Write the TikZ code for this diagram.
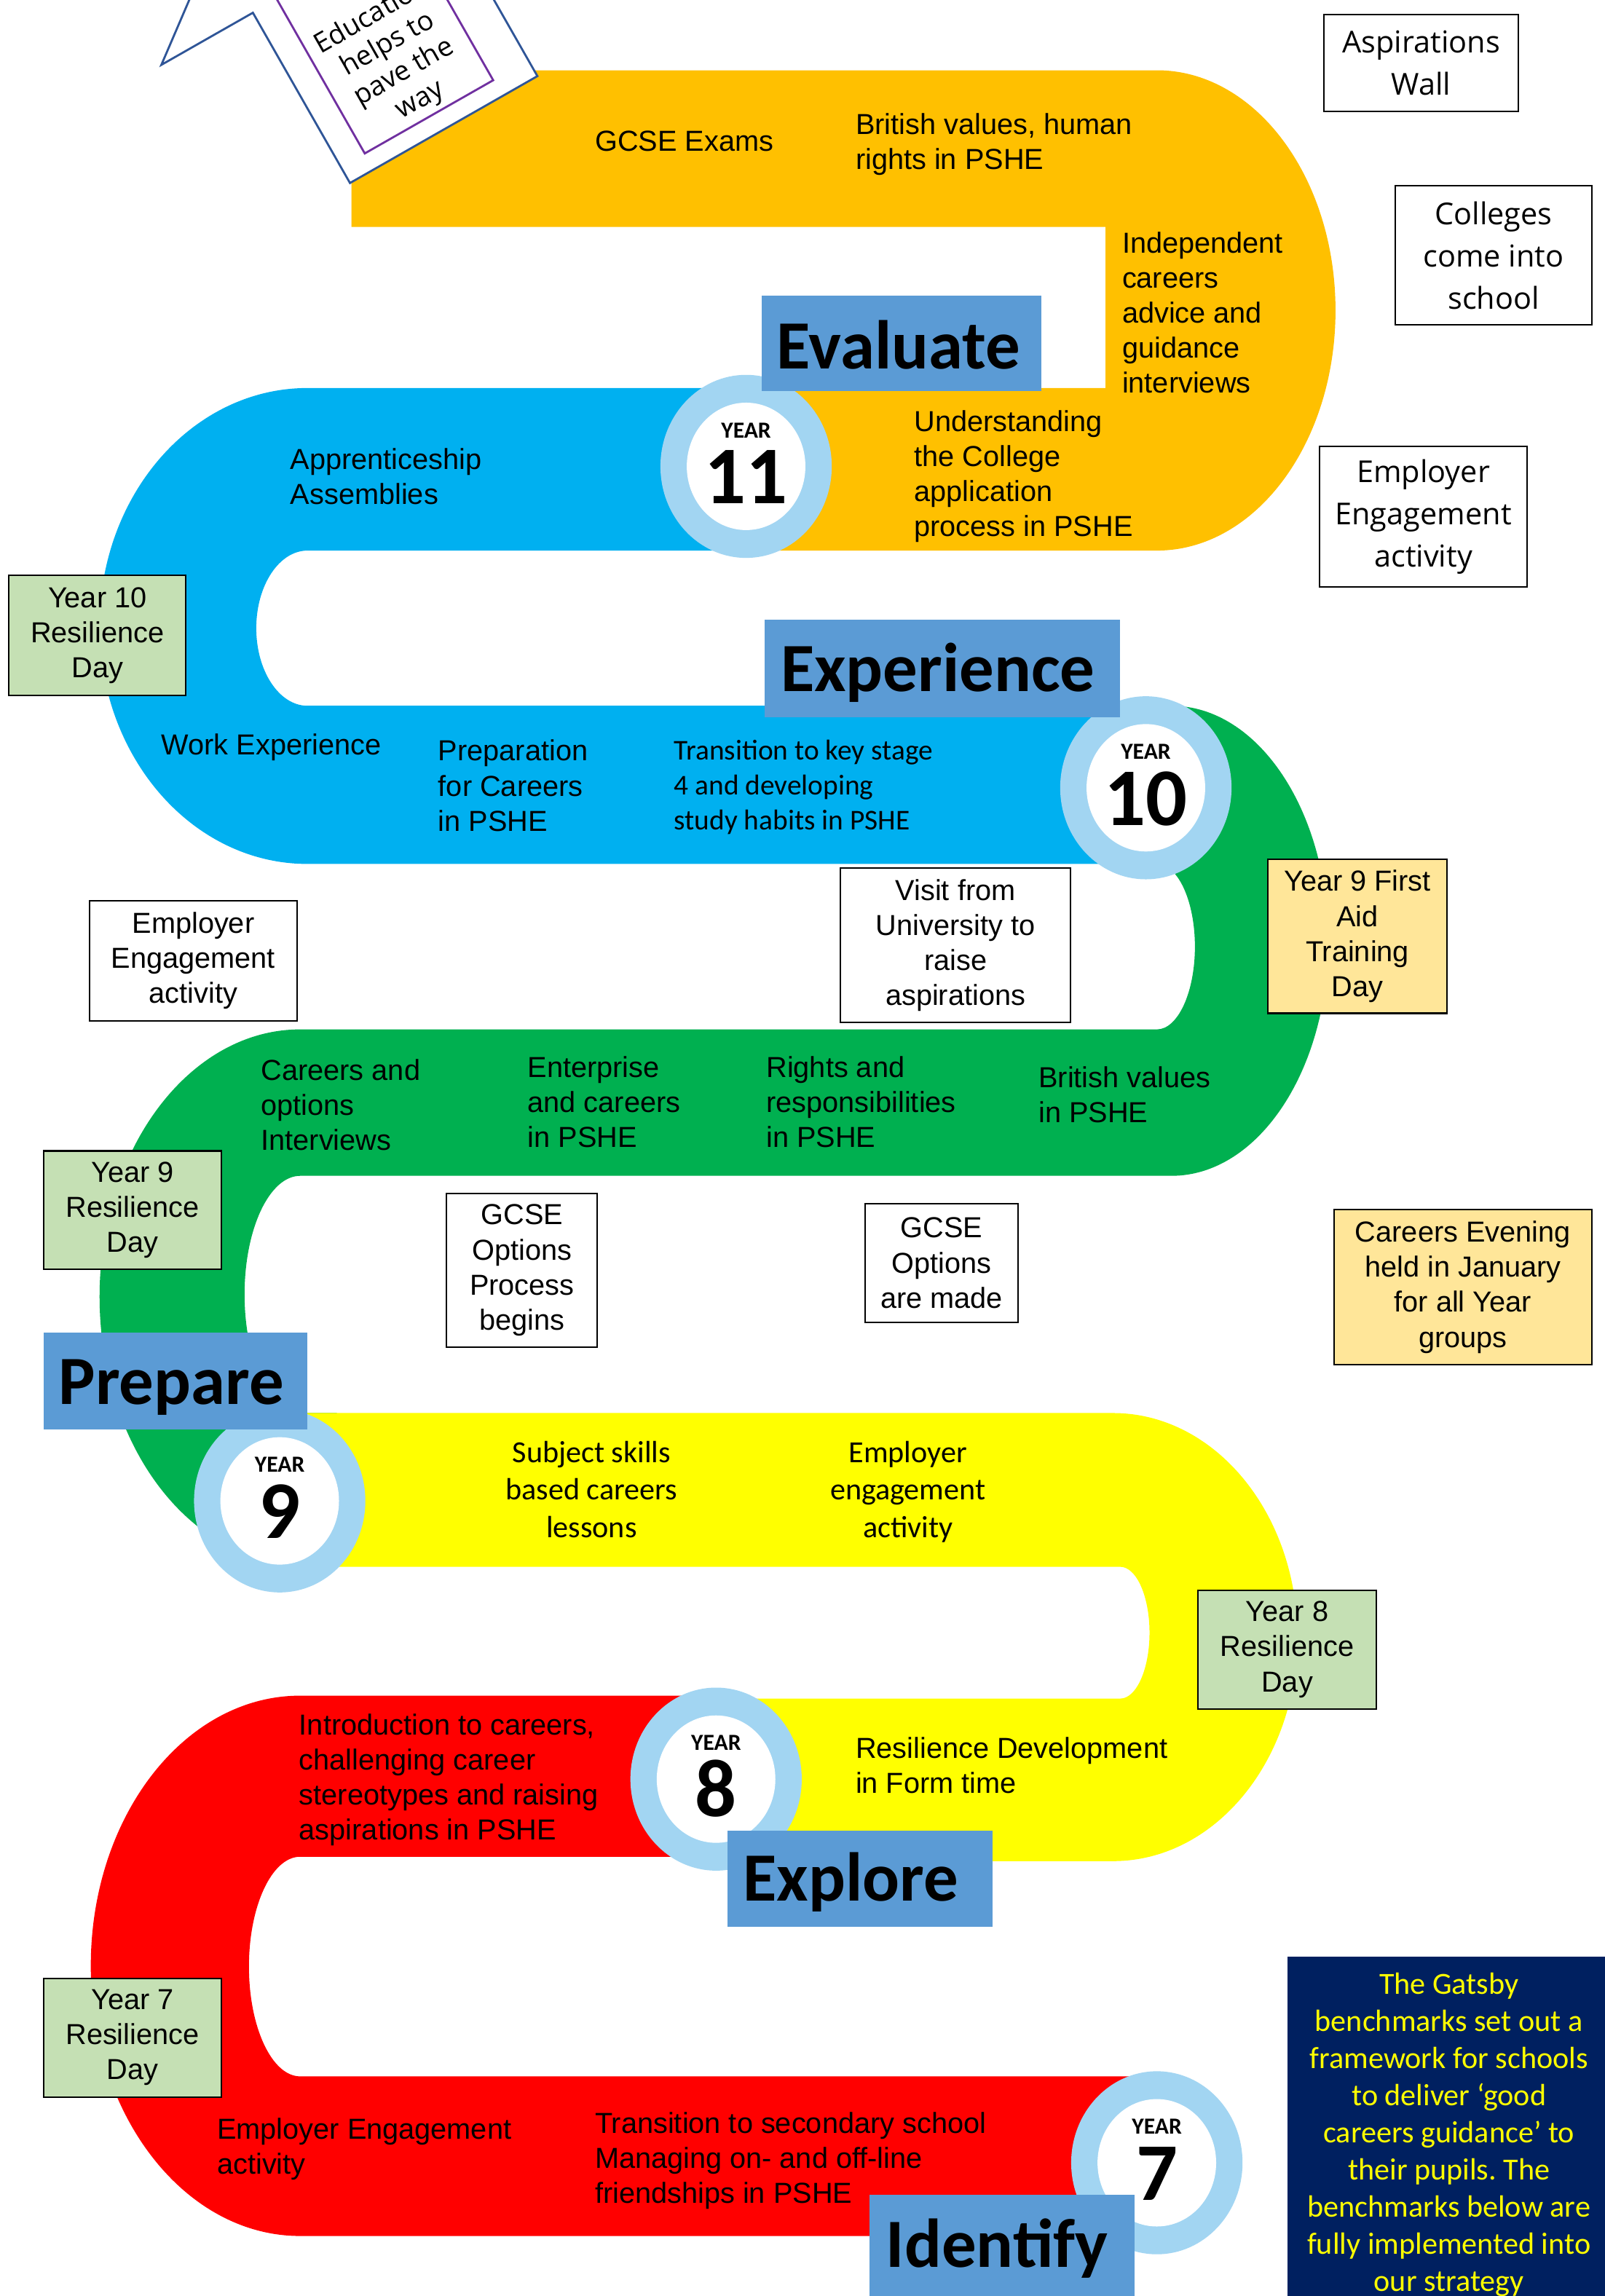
\documentclass[tikz,border=0pt]{standalone}
\usepackage{fontspec}
\setmainfont{Liberation Sans}
\newfontfamily\calib{Carlito}
\newfontfamily\opensf{Open Sans}
\frenchspacing
\definecolor{cOrange}{HTML}{FFC000}
\definecolor{cBlue}{HTML}{00B0F0}
\definecolor{cGreen}{HTML}{00B050}
\definecolor{cYellow}{HTML}{FFFF00}
\definecolor{cRed}{HTML}{FF0000}
\definecolor{cRing}{HTML}{A2D5F2}
\definecolor{cLabel}{HTML}{5B9BD5}
\definecolor{cNavy}{HTML}{002060}
\definecolor{cPale}{HTML}{C5E0B4}
\definecolor{cCream}{HTML}{FFE699}
\definecolor{cArrow}{HTML}{2F5597}
\definecolor{cPurple}{HTML}{7030A0}
\def\u{0.02011cm}
\begin{document}
\begin{tikzpicture}[x=\u, y=-\u,
  ptext/.style={font=\fontsize{11.3}{13.7}\selectfont, inner sep=0pt, anchor=north west, align=left},
  calt/.style={font=\calib\fontsize{11.2}{13.7}\selectfont, inner sep=0pt, anchor=north west, align=left},
  calc/.style={font=\calib\fontsize{12}{14.6}\selectfont, inner sep=0pt, anchor=north, align=center},
  bx/.style={draw=black, line width=0.6pt, inner sep=0pt, align=center, rectangle},
  abox/.style={bx, font=\fontsize{11.3}{13.7}\selectfont},
  obox/.style={bx, fill=white, font=\opensf\fontsize{11.8}{16.6}\selectfont},
  obox2/.style={bx, fill=white, font=\fontsize{11.3}{13.7}\selectfont},
  lbltxt/.style={font=\calib\bfseries\fontsize{27}{32}\selectfont, anchor=base, inner sep=0pt},
  yr/.style={font=\calib\bfseries\fontsize{9}{10}\selectfont, anchor=base, inner sep=0pt},
  num/.style={font=\calib\bfseries\fontsize{32}{36}\selectfont, anchor=base, inner sep=0pt},
  rot/.style={font=\opensf\fontsize{10.7}{12.6}\selectfont, anchor=center, align=center, inner sep=0pt, rotate=29.7}
]
\useasboundingbox (0,0) rectangle (1096,1568);
\clip (0,0) rectangle (1096,1568);
\fill[white] (0,0) rectangle (1096,1568);

% ---------- bands ----------
\fill[cOrange] (240,48) -- (790,48) arc[start angle=-90,end angle=90,x radius=122,y radius=164]
  -- (510,376) -- (510,265) -- (755,265) -- (755,155) -- (240,155) -- cycle;
\fill[cBlue] (510,265) -- (210,265) arc[start angle=270,end angle=90,x radius=142,y radius=162.5]
  -- (782,590) -- (782,482) -- (210,482) arc[start angle=90,end angle=270,x radius=35,y radius=53]
  -- (510,376) -- cycle;
\fill[cGreen] (782,482) -- (800,482) arc[start angle=-90,end angle=90,x radius=107,y radius=160.5]
  -- (205,803) arc[start angle=270,end angle=90,x radius=38,y radius=81]
  -- (230,965) -- (230,1068) -- (205,1068) arc[start angle=90,end angle=270,x radius=137,y radius=182.5]
  -- (790,703) arc[start angle=90,end angle=-90,x radius=26,y radius=56.5]
  -- (782,590) -- cycle;
\fill[cYellow] (191,965) -- (760,965) arc[start angle=-90,end angle=90,x radius=126,y radius=153]
  -- (490,1271) -- (490,1160) -- (765,1160) arc[start angle=90,end angle=-90,x radius=20,y radius=45]
  -- (191,1070) -- cycle;
\fill[cRed] (490,1158) -- (205,1158) arc[start angle=270,end angle=90,x radius=143,y radius=184.5]
  -- (790,1527) -- (790,1418) -- (205,1418) arc[start angle=90,end angle=270,x radius=35,y radius=75]
  -- (490,1268) -- cycle;

% ---------- arrow ----------
\filldraw[fill=white, draw=cArrow, line width=0.8pt, line join=miter]
  (239,125) -- (367,52) -- (300.7,-64.3) -- (363.2,-99.9) -- (182.2,-123.3) -- (110.2,44.3) -- (172.7,8.7) -- cycle;
\draw[cPurple, line width=0.8pt] (249.1,104.8) -- (336.8,54.8) -- (237.8,-118.8) -- (150.1,-68.8) -- cycle;
\node[rot] (paveway) at (270.5,40) {Education\\helps to\\pave the\\way};

% ---------- year circles ----------
\foreach \cx/\cy/\n/\nm in {509.5/318.5/11/c11, 782.5/538/10/c10, 191/1025/9/c9, 489/1215/8/c8, 790/1477/7/c7}{
  \fill[cRing] (\cx,\cy) ellipse[x radius=58.5,y radius=62.5];
  \fill[white] (\cx,\cy) ellipse[x radius=40.5,y radius=43.5];
  \node[yr] (\nm y) at (\cx,\cy-19.5) {YEAR};
  \node[num] (\nm n) at (\cx,\cy+25.5) {\n};
}

% ---------- stage labels ----------
\fill[cLabel] (520,202) rectangle (711,267);
\node[lbltxt] (evaluate) at (613.5,252) {Evaluate};
\fill[cLabel] (522,423) rectangle (765,490);
\node[lbltxt] (experience) at (640.5,472) {Experience};
\fill[cLabel] (30,910) rectangle (210,976);
\node[lbltxt] (prepare) at (117,959) {Prepare};
\fill[cLabel] (497,1250) rectangle (678,1316);
\node[lbltxt] (explore) at (581,1298) {Explore};
\fill[cLabel] (594,1499) rectangle (775,1575);
\node[lbltxt] (identify) at (681,1548.5) {Identify};

% ---------- path texts ----------
\node[ptext] (t1) at (406,89) {GCSE Exams};
\node[ptext] (t2) at (584,77) {British values, human\\rights in PSHE};
\node[ptext] (t3) at (766,158) {Independent\\careers\\advice and\\guidance\\interviews};
\node[ptext] (t4) at (624,280) {Understanding\\the College\\application\\process in PSHE};
\node[ptext] (t5) at (198,306) {Apprenticeship\\Assemblies};
\node[ptext] (t6) at (110,501) {Work Experience};
\node[ptext] (t7) at (299,505) {Preparation\\for Careers\\in PSHE};
\node[calt] (t8) at (460,505) {Transition to key stage\\4 and developing\\study habits in PSHE};
\node[ptext] (t9) at (178,723) {Careers and\\options\\Interviews};
\node[ptext] (t10) at (360,721) {Enterprise\\and careers\\in PSHE};
\node[ptext] (t11) at (523,721) {Rights and\\responsibilities\\in PSHE};
\node[ptext] (t12) at (709,728) {British values\\in PSHE};
\node[calc] (t13) at (404,984) {Subject skills\\based careers\\lessons};
\node[calc] (t14) at (620,984) {Employer\\engagement\\activity};
\node[ptext] (t15) at (204,1170) {Introduction to careers,\\challenging career\\stereotypes and raising\\aspirations in PSHE};
\node[ptext] (t16) at (584,1186) {Resilience Development\\in Form time};
\node[ptext] (t17) at (148,1446) {Employer Engagement\\activity};
\node[ptext] (t18) at (406,1442) {Transition to secondary school\\Managing on- and off-line\\friendships in PSHE};

% ---------- side boxes ----------
\node[obox, minimum width=133*\u, minimum height=66*\u] (asp) at (970.5,43) {Aspirations\\Wall};
\node[obox, minimum width=134*\u, minimum height=95*\u] (coll) at (1020,174.5) {Colleges\\come into\\school};
\node[obox, minimum width=142*\u, minimum height=96*\u] (empr) at (972,353) {Employer\\Engagement\\activity};
\node[obox2, minimum width=142*\u, minimum height=82*\u] (empl) at (132,656) {Employer\\Engagement\\activity};
\node[obox2, minimum width=157*\u, minimum height=105*\u] (visit) at (652.5,645.5) {Visit from\\University to\\raise\\aspirations};
\node[obox2, minimum width=103*\u, minimum height=105*\u] (gcsea) at (356.5,867.5) {GCSE\\Options\\Process\\begins};
\node[obox2, minimum width=104*\u, minimum height=81*\u] (gcseb) at (643,862.5) {GCSE\\Options\\are made};

\node[abox, fill=cPale, minimum width=121*\u, minimum height=82*\u] (y10) at (66.5,434) {Year 10\\Resilience\\Day};
\node[abox, fill=cCream, minimum width=122*\u, minimum height=105*\u] (y9fa) at (927,639.5) {Year 9 First\\Aid\\Training\\Day};
\node[abox, fill=cPale, minimum width=121*\u, minimum height=81*\u] (y9r) at (90.5,826.5) {Year 9\\Resilience\\Day};
\node[abox, fill=cCream, minimum width=176*\u, minimum height=106*\u] (ce) at (999,879) {Careers Evening\\held in January\\for all Year\\groups};
\node[abox, fill=cPale, minimum width=122*\u, minimum height=81*\u] (y8) at (879,1126.5) {Year 8\\Resilience\\Day};
\node[abox, fill=cPale, minimum width=121*\u, minimum height=81*\u] (y7) at (90.5,1391.5) {Year 7\\Resilience\\Day};

% ---------- Gatsby ----------
\fill[cNavy] (879,1336) rectangle (1100,1580);
\node[font=\calib\fontsize{12}{14.5}\selectfont, text=cYellow, inner sep=0pt, anchor=north, align=center] (gatsby) at (989.5,1347)
  {The Gatsby\\benchmarks set out a\\framework for schools\\to deliver ‘good\\careers guidance’ to\\their pupils. The\\benchmarks below are\\fully implemented into\\our strategy};
\end{tikzpicture}
\end{document}
